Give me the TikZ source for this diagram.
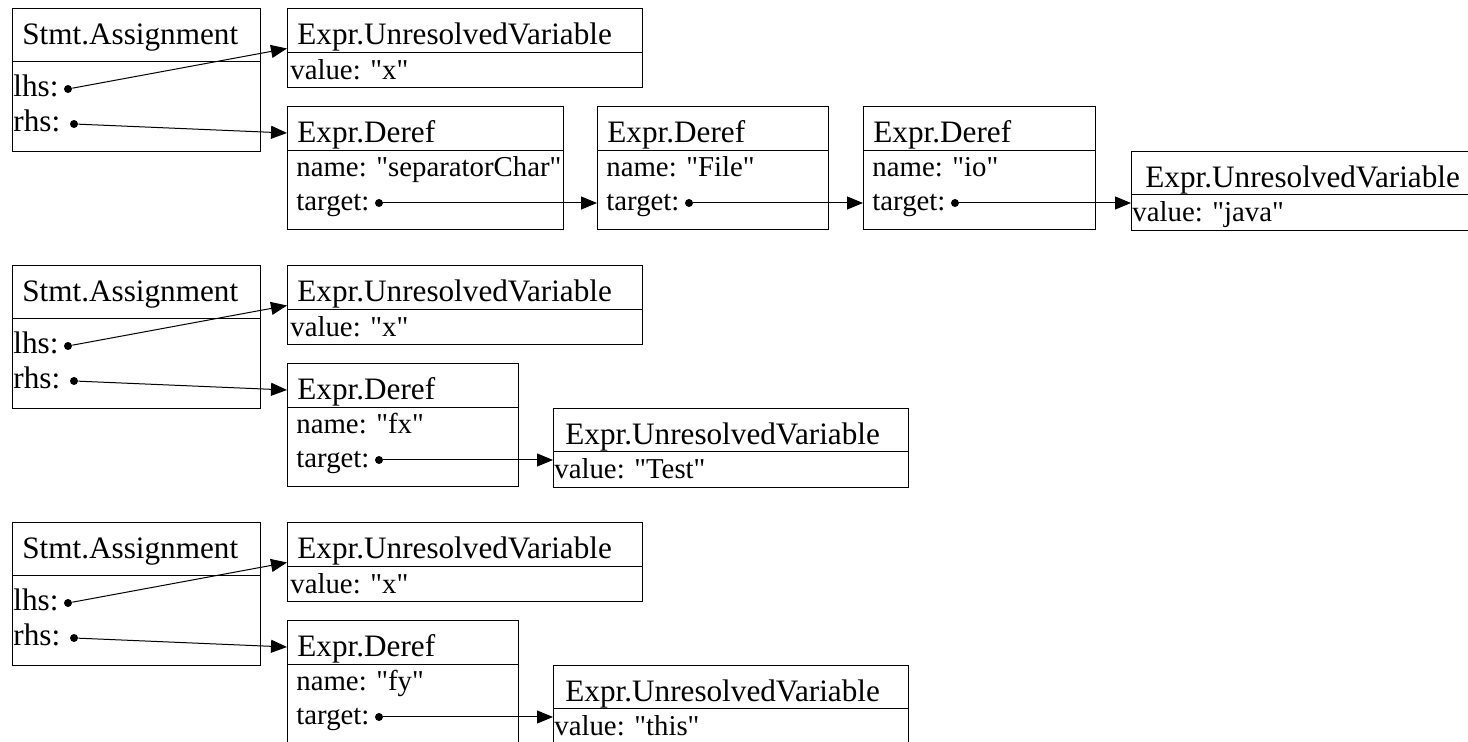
\documentclass[tikz,border=0pt]{standalone}
\usepackage{fontspec}
\setmainfont{Liberation Serif}
\usetikzlibrary{arrows.meta}
\newcommand\dq{\textquotedbl}
\tikzset{
  rec/.style={draw, line width=0.5pt, rectangle, inner sep=0pt, outer sep=0pt, anchor=north west},
  ttl/.style={anchor=base west, inner sep=0pt, font=\fontsize{15.6}{18}\selectfont},
  sfld/.style={anchor=base west, inner sep=0pt, font=\fontsize{15.6}{18}\selectfont},
  fld/.style={anchor=base west, inner sep=0pt, font=\fontsize{14.4}{17}\selectfont},
  pin/.style={circle, fill, inner sep=0pt, minimum size=4pt},
  conn/.style={-{Triangle[length=8pt,width=6.5pt]}, line width=0.5pt},
  sepline/.style={line width=0.5pt}
}
% name, x, y, width, height, separator offset (all in px)
\newcommand\rbox[6]{%
  \node[rec, minimum width={#4*0.5pt}, minimum height={#5*0.5pt}] (#1) at (#2,#3) {};
  \draw[sepline] ([yshift={-#6*0.5pt}]#1.north west) -- ([yshift={-#6*0.5pt}]#1.north east);
}
\begin{document}
\begin{tikzpicture}[x=0.5pt,y=-0.5pt]
\clip (0,0) rectangle (1468,742);

% ---------------- Row 1 ----------------
\rbox{Sa}{12}{9}{248}{143}{53}
\node[ttl] (Sat) at (22,45) {Stmt.Assignment};
\node[sfld] (Sal) at (13,97) {lhs:};
\node[sfld] (Sar) at (13,132) {rhs:};
\node[pin] (Sald) at (68,89) {};
\node[pin] (Sard) at (74,124) {};

\rbox{Ua}{287}{9}{355}{79}{44}
\node[ttl] (Uat) at (297,45) {Expr.UnresolvedVariable};
\node[fld] (Uav) at (290,80) {value: \dq x\dq};

\rbox{Da}{287}{107}{276}{123}{44}
\node[ttl] (Dat) at (297,143) {Expr.Deref};
\node[fld] (Dan) at (296,177) {name: \dq separatorChar\dq};
\node[fld] (Dag) at (296,211) {target:};
\node[pin] (Dad) at (379,203) {};

\rbox{Db}{597}{107}{231}{123}{44}
\node[ttl] (Dbt) at (607,143) {Expr.Deref};
\node[fld] (Dbn) at (606,177) {name: \dq File\dq};
\node[fld] (Dbg) at (606,211) {target:};
\node[pin] (Dbd) at (689,203) {};

\rbox{Dc}{863}{107}{232}{123}{44}
\node[ttl] (Dct) at (873,143) {Expr.Deref};
\node[fld] (Dcn) at (872,177) {name: \dq io\dq};
\node[fld] (Dcg) at (872,211) {target:};
\node[pin] (Dcd) at (955,203) {};

\rbox{Ub}{1131}{152}{355}{79}{43}
\node[ttl] (Ubt) at (1145,188) {Expr.UnresolvedVariable};
\node[fld] (Ubv) at (1132,222) {value: \dq java\dq};

\draw[conn] (Sald) -- (Ua.west);
\draw[conn] (Sard) -- ([yshift=-13pt]Da.north west);
\draw[conn] (Dad) -- (Dad -| Db.west);
\draw[conn] (Dbd) -- (Dbd -| Dc.west);
\draw[conn] (Dcd) -- (Dcd -| Ub.west);

% ---------------- Row 2 ----------------
\begin{scope}[yshift=-128.5pt]
\rbox{Sb}{12}{9}{248}{143}{53}
\node[ttl] (Sbt) at (22,45) {Stmt.Assignment};
\node[sfld] (Sbl) at (13,97) {lhs:};
\node[sfld] (Sbr) at (13,132) {rhs:};
\node[pin] (Sbld) at (68,89) {};
\node[pin] (Sbrd) at (74,124) {};

\rbox{Uc}{287}{9}{355}{79}{44}
\node[ttl] (Uct) at (297,45) {Expr.UnresolvedVariable};
\node[fld] (Ucv) at (290,80) {value: \dq x\dq};

\rbox{Dd}{287}{107}{231}{123}{44}
\node[ttl] (Ddt) at (297,143) {Expr.Deref};
\node[fld] (Ddn) at (296,177) {name: \dq fx\dq};
\node[fld] (Ddg) at (296,211) {target:};
\node[pin] (Ddd) at (379,203) {};

\rbox{Ud}{553}{152}{355}{79}{43}
\node[ttl] (Udt) at (565,188) {Expr.UnresolvedVariable};
\node[fld] (Udv) at (554,222) {value: \dq Test\dq};

\draw[conn] (Sbld) -- (Uc.west);
\draw[conn] (Sbrd) -- ([yshift=-13pt]Dd.north west);
\draw[conn] (Ddd) -- (Ddd -| Ud.west);
\end{scope}

% ---------------- Row 3 ----------------
\begin{scope}[yshift=-257pt]
\rbox{Sc}{12}{9}{248}{143}{53}
\node[ttl] (Sct) at (22,45) {Stmt.Assignment};
\node[sfld] (Scl) at (13,97) {lhs:};
\node[sfld] (Scr) at (13,132) {rhs:};
\node[pin] (Scld) at (68,89) {};
\node[pin] (Scrd) at (74,124) {};

\rbox{Ue}{287}{9}{355}{79}{44}
\node[ttl] (Uet) at (297,45) {Expr.UnresolvedVariable};
\node[fld] (Uev) at (290,80) {value: \dq x\dq};

\rbox{De}{287}{107}{231}{123}{44}
\node[ttl] (Det) at (297,143) {Expr.Deref};
\node[fld] (Den) at (296,177) {name: \dq fy\dq};
\node[fld] (Deg) at (296,211) {target:};
\node[pin] (Ded) at (379,203) {};

\rbox{Uf}{553}{152}{355}{79}{43}
\node[ttl] (Uft) at (565,188) {Expr.UnresolvedVariable};
\node[fld] (Ufv) at (554,222) {value: \dq this\dq};

\draw[conn] (Scld) -- (Ue.west);
\draw[conn] (Scrd) -- ([yshift=-13pt]De.north west);
\draw[conn] (Ded) -- (Ded -| Uf.west);
\end{scope}
\end{tikzpicture}
\end{document}
